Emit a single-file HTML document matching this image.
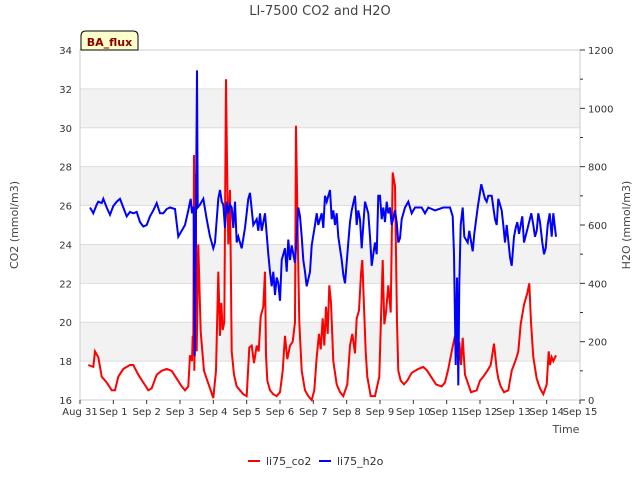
<!DOCTYPE html>
<html><head><meta charset="utf-8"><style>
body{margin:0;background:#fff;font-family:"Liberation Sans",sans-serif}
svg text{font-family:"DejaVu Sans","Liberation Sans",sans-serif}
</style></head><body>
<svg id="c" width="640" height="480" xmlns="http://www.w3.org/2000/svg">
<text x="320" y="15" text-anchor="middle" font-size="13" fill="#444">LI-7500 CO2 and H2O</text>
<g id="bands"></g><g id="grid"></g>
<rect x="80" y="50" width="500" height="350" fill="none" stroke="#ccc"/>
<g id="axes"></g>
<polyline id="co2" fill="none" stroke="#ff0000" stroke-width="2"/>
<polyline id="h2o" fill="none" stroke="#0000ff" stroke-width="2"/>
<g>
<path d="M81,50 V36 Q81,31 86,31 H133 Q138,31 138,36 V50 Z" fill="#ffffcc" stroke="#000"/>
<text x="109.5" y="46" text-anchor="middle" font-size="11" font-weight="bold" fill="#8b0000">BA_flux</text></g>
<text x="566" y="433" text-anchor="middle" font-size="11" fill="#444">Time</text>
<text transform="translate(18,225) rotate(-90)" text-anchor="middle" font-size="11" fill="#444">CO2 (mmol/m3)</text>
<text transform="translate(630,225) rotate(-90)" text-anchor="middle" font-size="11" fill="#444">H2O (mmol/m3)</text>
<g><line x1="248" y1="461" x2="260" y2="461" stroke="#f00" stroke-width="2"/><text x="266" y="465" font-size="11" fill="#333">li75_co2</text></g>
<g><line x1="319" y1="461" x2="331" y2="461" stroke="#00f" stroke-width="2"/><text x="337" y="465" font-size="11" fill="#333">li75_h2o</text></g>
</svg>
<script>
const xTickLabels=["Aug 31","Sep 1","Sep 2","Sep 3","Sep 4","Sep 5","Sep 6","Sep 7","Sep 8","Sep 9","Sep 10","Sep 11","Sep 12","Sep 13","Sep 14","Sep 15"];
const leftTicks=[16,18,20,22,24,26,28,30,32,34];
const rightTicks=[0,200,400,600,800,1000,1200];
const co2Days=[0.25,0.4,0.45,0.55,0.65,0.8,0.95,1.05,1.15,1.3,1.5,1.6,1.75,1.9,2.05,2.15,2.3,2.45,2.6,2.75,2.9,3.05,3.15,3.25,3.3,3.36,3.38,3.4,3.42,3.43,3.45,3.47,3.5,3.55,3.62,3.72,3.82,3.92,4.0,4.08,4.15,4.2,4.24,4.28,4.33,4.38,4.41,4.45,4.5,4.55,4.62,4.7,4.8,4.9,5.0,5.08,5.15,5.22,5.3,5.36,5.42,5.5,5.55,5.58,5.62,5.7,5.8,5.9,6.0,6.08,6.15,6.22,6.3,6.38,6.45,6.48,6.53,6.58,6.65,6.75,6.85,6.95,7.03,7.1,7.17,7.22,7.28,7.33,7.38,7.43,7.48,7.53,7.6,7.7,7.8,7.9,8.02,8.1,8.17,8.25,8.3,8.37,8.43,8.47,8.52,8.57,8.62,8.72,8.85,8.98,9.08,9.13,9.18,9.25,9.32,9.38,9.45,9.51,9.55,9.62,9.72,9.82,9.95,10.15,10.3,10.42,10.53,10.68,10.85,10.95,11.05,11.15,11.25,11.32,11.38,11.43,11.48,11.55,11.63,11.73,11.9,12.0,12.1,12.22,12.32,12.42,12.5,12.55,12.62,12.72,12.85,12.95,13.08,13.15,13.22,13.32,13.42,13.48,13.53,13.6,13.7,13.8,13.9,14.0,14.06,14.1,14.15,14.2,14.28];
const co2Values=[17.8,17.7,18.5,18.2,17.2,16.9,16.5,16.5,17.2,17.6,17.8,17.8,17.3,16.9,16.5,16.6,17.3,17.5,17.6,17.5,17.1,16.7,16.5,16.7,18.3,18.0,19.3,18.4,28.6,17.5,19.9,27.6,18.5,24,19.5,17.5,17.0,16.5,16.1,17.5,22.6,19.3,21.0,19.6,20.0,32.5,28.3,24,26.8,18.5,17.3,16.7,16.5,16.3,16.2,18.7,18.8,17.9,18.8,18.5,20.3,20.8,22.6,18.3,17.0,16.5,16.3,16.2,16.4,17.5,19.3,18.1,18.8,19.0,20,30.1,24.5,20,17.5,16.5,16.2,16.0,16.5,18.2,19.4,18.6,20.2,18.8,20.8,19.4,21.9,21.0,18.0,16.8,16.4,16.2,16.8,18.8,19.4,18.4,20.2,20.6,22.5,23.2,20.8,18.5,17.2,16.2,16.2,17.2,23.2,19.9,20.5,21.9,20.5,27.7,27.0,20,17.5,17.0,16.8,17.0,17.4,17.6,17.7,17.5,17.2,16.8,16.7,16.9,17.6,18.5,19.3,18.2,19.0,17.8,19.2,17.3,16.9,16.4,16.5,17.0,17.2,17.5,17.8,18.9,17.6,17.1,16.7,16.4,16.5,17.5,18.1,18.5,19.9,20.9,21.5,22.0,20.0,18.2,17.1,16.6,16.3,16.8,18.5,17.8,18.2,18.0,18.3];
const h2oDays=[0.3,0.35,0.4,0.5,0.55,0.65,0.7,0.8,0.9,1.0,1.1,1.2,1.3,1.4,1.5,1.6,1.7,1.8,1.9,2.0,2.1,2.2,2.3,2.4,2.5,2.6,2.7,2.85,2.95,3.05,3.15,3.25,3.32,3.36,3.39,3.41,3.44,3.48,3.51,3.53,3.6,3.7,3.8,3.9,3.95,4.0,4.05,4.15,4.2,4.25,4.3,4.35,4.4,4.45,4.5,4.55,4.6,4.65,4.7,4.75,4.85,4.95,5.05,5.1,5.2,5.3,5.35,5.4,5.45,5.55,5.65,5.7,5.75,5.8,5.85,5.9,5.95,6.0,6.05,6.15,6.2,6.25,6.3,6.35,6.45,6.5,6.55,6.6,6.65,6.7,6.75,6.8,6.9,6.95,7.05,7.1,7.15,7.25,7.3,7.35,7.4,7.5,7.55,7.6,7.65,7.7,7.75,7.85,7.9,7.95,8.05,8.1,8.15,8.25,8.3,8.35,8.4,8.45,8.5,8.55,8.6,8.65,8.7,8.75,8.8,8.85,8.9,8.95,9.0,9.05,9.1,9.15,9.2,9.25,9.3,9.35,9.45,9.5,9.55,9.6,9.65,9.75,9.85,9.95,10.05,10.25,10.35,10.45,10.65,10.9,11.1,11.18,11.22,11.27,11.31,11.35,11.38,11.42,11.48,11.53,11.63,11.68,11.78,11.83,11.93,12.04,12.15,12.2,12.25,12.35,12.45,12.5,12.55,12.65,12.7,12.75,12.8,12.9,12.95,13.02,13.07,13.12,13.17,13.22,13.27,13.32,13.43,13.54,13.6,13.65,13.7,13.75,13.8,13.87,13.92,13.97,14.03,14.09,14.15,14.2,14.28];
const h2oValues=[660,650,640,670,680,675,690,660,635,665,680,690,660,630,645,640,645,610,595,600,630,650,675,640,640,655,660,655,560,580,600,650,690,640,660,660,150,660,1130,660,670,690,620,560,540,520,540,690,720,680,670,590,680,640,670,660,590,680,540,560,520,590,690,710,600,620,580,640,580,640,500,440,390,440,360,420,400,340,480,520,440,550,480,530,470,560,660,630,560,480,440,390,440,530,600,640,600,640,590,700,680,720,620,650,600,640,560,480,430,400,540,610,650,700,600,650,620,520,600,680,660,640,560,460,500,540,500,700,700,620,660,610,680,640,660,600,650,610,540,555,620,660,680,640,660,660,640,660,650,660,660,630,500,120,420,50,400,600,660,560,540,580,510,570,660,740,690,680,700,700,620,600,690,650,600,540,600,490,460,560,590,610,570,600,630,540,590,640,600,560,580,640,610,540,500,520,600,640,560,640,560];
const X=d=>80+d*500/15, YL=v=>400-(v-16)*350/18, YR=v=>400-v*350/1200;
const NS="http://www.w3.org/2000/svg";
function mk(t,a,p){const e=document.createElementNS(NS,t);for(const k in a)e.setAttribute(k,a[k]);p.appendChild(e);return e;}
const bands=document.getElementById('bands'),grid=document.getElementById('grid'),axes=document.getElementById('axes');
for(let i=0;i<leftTicks.length-1;i++){if(i%2==1){const r=mk('rect',{x:80,y:YL(leftTicks[i+1]),width:500,height:YL(leftTicks[i])-YL(leftTicks[i+1]),fill:'#f2f2f2'},bands);

}}
leftTicks.forEach(v=>{const y=YL(v);const l=mk('line',{x1:80,x2:580,y1:y,y2:y,stroke:'#ddd'},grid);


const t=mk('text',{x:72,y:y+4,'text-anchor':'end','font-size':10,fill:'#333'},axes);t.textContent=v;

});
for(let v=0;v<=1200;v+=100){const y=YR(v);mk('line',{x1:580,x2:v%200?583:585,y1:y,y2:y,stroke:'#333'},axes);}
rightTicks.forEach(v=>{const t=mk('text',{x:588,y:YR(v)+4,'font-size':10,fill:'#333'},axes);t.textContent=v;

});
xTickLabels.forEach((s,i)=>{const x=X(i);mk('line',{x1:x,x2:x,y1:400,y2:404,stroke:'#333'},axes);const t=mk('text',{x:x,y:415,'text-anchor':'middle','font-size':10,fill:'#333'},axes);t.textContent=s;

});
document.getElementById('co2').setAttribute('points',co2Days.map((d,i)=>X(d).toFixed(1)+','+YL(co2Values[i]).toFixed(1)).join(' '));
document.getElementById('h2o').setAttribute('points',h2oDays.map((d,i)=>X(d).toFixed(1)+','+YR(h2oValues[i]).toFixed(1)).join(' '));
</script>
</body></html>
